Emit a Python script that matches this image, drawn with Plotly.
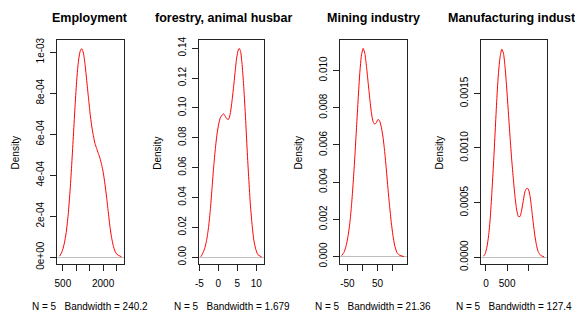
import plotly.graph_objects as go

# ---------------- data ----------------
titles = ["Employment", "forestry, animal husbar", "Mining industry", "Manufacturing indust"]
bandwidth_labels = [
    "N = 5\u00a0\u00a0\u00a0Bandwidth = 240.2",
    "N = 5\u00a0\u00a0\u00a0Bandwidth = 1.679",
    "N = 5\u00a0\u00a0\u00a0Bandwidth = 21.36",
    "N = 5\u00a0\u00a0\u00a0Bandwidth = 127.4",
]

emp_x = [377, 463, 549, 623, 698, 772, 833, 895, 957, 1019, 1080, 1142, 1204, 1266,
         1327, 1389, 1451, 1513, 1574, 1636, 1698, 1760, 1822, 1883, 1945, 2007, 2069,
         2130, 2192, 2254, 2316, 2377, 2439, 2525, 2686]
emp_y = [5e-6, 2.5e-5, 6.5e-5, 1.20e-4, 2.07e-4, 3.33e-4, 4.59e-4, 6.01e-4, 7.43e-4,
         8.69e-4, 9.56e-4, 1.003e-3, 1.017e-3, 9.95e-4, 9.40e-4, 8.61e-4, 7.82e-4,
         7.03e-4, 6.40e-4, 5.93e-4, 5.54e-4, 5.30e-4, 5.06e-4, 4.83e-4, 4.51e-4,
         4.12e-4, 3.56e-4, 2.93e-4, 2.22e-4, 1.51e-4, 9.6e-5, 5.7e-5, 3.0e-5, 1.3e-5, 2e-6]

agr_x = [-4.6, -4.22, -3.62, -3.10, -2.59, -2.07, -1.64, -1.21, -0.78, -0.34, 0.09, 0.52,
         0.95, 1.38, 1.81, 2.24, 2.67, 3.10, 3.53, 3.97, 4.40, 4.83, 5.26, 5.52, 5.86,
         6.29, 6.72, 7.16, 7.59, 8.02, 8.45, 8.88, 9.31, 9.83, 10.43, 11.4]
agr_y = [0.0003, 0.0020, 0.0056, 0.0111, 0.0197, 0.0327, 0.0468, 0.0609, 0.0728, 0.0826,
         0.0891, 0.0934, 0.0951, 0.0960, 0.0945, 0.0927, 0.0923, 0.0956, 0.1031, 0.1129,
         0.1237, 0.1335, 0.1389, 0.1398, 0.1378, 0.1281, 0.1129, 0.0934, 0.0717, 0.0522,
         0.0349, 0.0219, 0.0121, 0.0056, 0.0017, 0.0002]

min_x = [-69, -61.3, -54.7, -48.1, -41.6, -36.1, -30.6, -25.2, -19.7, -14.2, -8.8, -3.3,
         2.2, 7.7, 13.1, 18.6, 24.1, 29.5, 35.0, 40.5, 45.9, 51.4, 56.9, 62.4, 67.8, 73.3,
         78.8, 84.2, 89.7, 95.2, 100.6, 106.1, 113.8, 122.5, 136.8]
min_y = [0.00005, 0.00022, 0.00054, 0.00106, 0.00183, 0.00279, 0.00400, 0.00538, 0.00694,
         0.00849, 0.00988, 0.01083, 0.01118, 0.01092, 0.01022, 0.00936, 0.00849, 0.00772,
         0.00725, 0.00711, 0.00720, 0.00737, 0.00728, 0.00694, 0.00642, 0.00564, 0.00469,
         0.00365, 0.00270, 0.00183, 0.00114, 0.00062, 0.00022, 0.00007, 0.0]

man_x = [-55, -16, 23, 63, 102, 141, 180, 219, 258, 297, 336, 375, 414, 453, 492, 531, 570,
         609, 648, 688, 727, 766, 805, 844, 883, 922, 961, 1000, 1039, 1078, 1117, 1156,
         1195, 1234, 1289, 1375]
man_y = [9e-6, 3.3e-5, 9.2e-5, 1.95e-4, 3.58e-4, 5.95e-4, 8.61e-4, 1.157e-3, 1.453e-3,
         1.689e-3, 1.837e-3, 1.905e-3, 1.867e-3, 1.734e-3, 1.541e-3, 1.320e-3, 1.098e-3,
         8.91e-4, 7.13e-4, 5.50e-4, 4.32e-4, 3.73e-4, 3.73e-4, 4.32e-4, 5.21e-4, 6.01e-4,
         6.30e-4, 6.24e-4, 5.65e-4, 4.47e-4, 3.14e-4, 1.95e-4, 1.07e-4, 5.0e-5, 1.8e-5, 3e-6]

x_tickvals = [[500, 1000, 1500, 2000, 2500], [-5, 0, 5, 10], [-50, 0, 50, 100], [0, 500, 1000]]
x_ticktext = [["500", "", "", "2000", ""], ["-5", "0", "5", "10"], ["-50", "", "50", ""],
              ["0", "500", ""]]
y_tickvals = [[0, 2e-4, 4e-4, 6e-4, 8e-4, 1e-3],
              [0, 0.02, 0.04, 0.06, 0.08, 0.10, 0.12, 0.14],
              [0, 0.002, 0.004, 0.006, 0.008, 0.010],
              [0, 0.0005, 0.0010, 0.0015]]
y_ticktext = [["0e+00", "2e-04", "4e-04", "6e-04", "8e-04", "1e-03"],
              ["0.00", "0.02", "0.04", "0.06", "0.08", "0.10", "0.12", "0.14"],
              ["0.000", "0.002", "0.004", "0.006", "0.008", "0.010"],
              ["0.0000", "0.0005", "0.0010", "0.0015"]]

series = [(emp_x, emp_y), (agr_x, agr_y), (min_x, min_y), (man_x, man_y)]

# ---------------- layout (pixel geometry) ----------------
W, H = 575, 324
box_left = [53.3, 196.7, 338.3, 480.3]
box_right = [120.7, 262.0, 405.7, 547.3]
box_top, box_bottom = 37.7, 269.3
x_ranges = [[278, 2774], [-5.0, 12.07], [-74.5, 146.7], [-117, 1453]]
y_ranges = [[-3.31e-5, 1.0614e-3], [-0.00455, 0.1458], [-0.0004, 0.01166], [-0.000062, 0.001993]]
title_x = [87.0, 150.0, 372.0, 444.7]
title_anchor = ["center", "left", "center", "left"]

FONT = "Liberation Sans, Arial, sans-serif"

fig = go.Figure()
layout = dict(
    width=W, height=H,
    margin=dict(l=0, r=0, t=0, b=0),
    paper_bgcolor="white", plot_bgcolor="white",
    showlegend=False,
    font=dict(family=FONT, size=10, color="black"),
)
annotations = []
for i, (xs, ys) in enumerate(series):
    n = "" if i == 0 else str(i + 1)
    fig.add_trace(go.Scatter(x=xs, y=ys, mode="lines", xaxis="x" + n, yaxis="y" + n,
                             line=dict(color="#FF0000", width=1, shape="spline", smoothing=0.6),
                             hoverinfo="skip"))
    layout["xaxis" + n] = dict(
        domain=[box_left[i] / W, box_right[i] / W], anchor="y" + n,
        range=x_ranges[i], showgrid=False, zeroline=False,
        showline=True, mirror=True, linecolor="#222222", linewidth=1,
        ticks="outside", ticklen=6, tickwidth=1, tickcolor="#222222",
        tickvals=x_tickvals[i], ticktext=x_ticktext[i],
        tickfont=dict(family=FONT, size=10, color="black"), ticklabelstandoff=4,
    )
    layout["yaxis" + n] = dict(
        domain=[1 - box_bottom / H, 1 - box_top / H], anchor="x" + n,
        range=y_ranges[i], showgrid=False,
        zeroline=True, zerolinecolor="#BEBEBE", zerolinewidth=1,
        showline=True, mirror=True, linecolor="#222222", linewidth=1,
        ticks="outside", ticklen=6, tickwidth=1, tickcolor="#222222",
        tickvals=y_tickvals[i], ticktext=y_ticktext[i], tickangle=-90,
        tickfont=dict(family=FONT, size=10, color="black"), ticklabelstandoff=2,
    )
    annotations.append(dict(text="<b>" + titles[i] + "</b>", xref="paper", yref="paper",
                            x=title_x[i] / W, y=1 - 15 / H, xanchor=title_anchor[i],
                            yanchor="middle", showarrow=False,
                            font=dict(family=FONT, size=12.5, color="black")))
    annotations.append(dict(text="Density", xref="paper", yref="paper",
                            x=(box_left[i] - 42) / W, y=1 - 155 / H, textangle=-90,
                            xanchor="center", yanchor="middle", showarrow=False,
                            font=dict(family=FONT, size=10, color="black")))
    annotations.append(dict(text=bandwidth_labels[i], xref="paper", yref="paper",
                            x=(box_left[i] + box_right[i]) / 2 / W, y=1 - 313 / H,
                            xanchor="center", yanchor="middle", showarrow=False,
                            font=dict(family=FONT, size=10, color="black")))
layout["annotations"] = annotations
fig.update_layout(**layout)
fig.write_html("out.html")
